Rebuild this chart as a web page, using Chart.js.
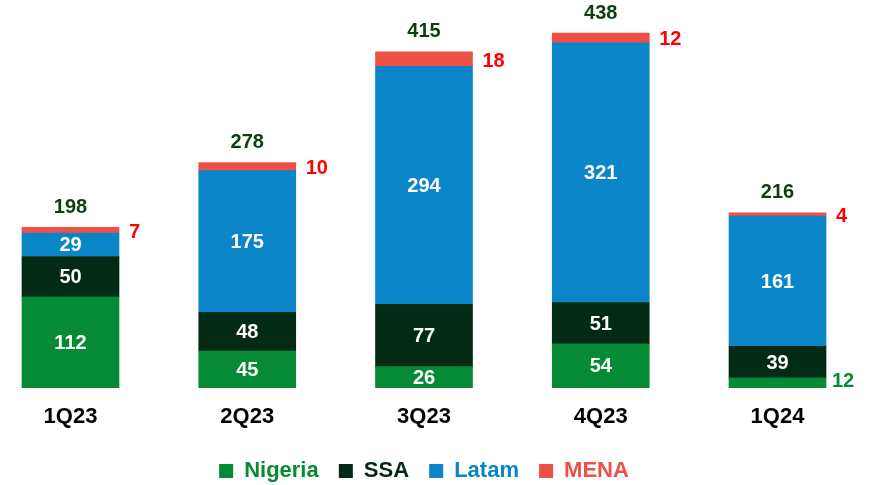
<!DOCTYPE html>
<html>
<head>
<meta charset="utf-8">
<script src="https://cdn.jsdelivr.net/npm/chart.js@4"></script>
<style>
html,body{margin:0;padding:0;background:#fff;}
#wrap{width:873px;height:485px;position:relative;}
</style>
</head>
<body>
<div id="wrap"><canvas id="c" width="873" height="485"></canvas></div>
<script>
const categories = ['1Q23', '2Q23', '3Q23', '4Q23', '1Q24'];
const nigeria = [112, 45, 26, 54, 12];
const ssa = [50, 48, 77, 51, 39];
const latam = [29, 175, 294, 321, 161];
const mena = [7, 10, 18, 12, 4];
const totals = [198, 278, 415, 438, 216];

const colors = {
  nigeria: '#078a35',
  ssa: '#032a15',
  latam: '#0a86c8',
  mena: '#ef5046'
};
const FONT = '"Liberation Sans", Arial, sans-serif';

const labelPlugin = {
  id: 'barLabels',
  afterDatasetsDraw(chart) {
    const ctx = chart.ctx;
    ctx.save();
    ctx.font = 'bold 20px ' + FONT;
    ctx.textBaseline = 'middle';
    const metas = chart.data.datasets.map((d, i) => chart.getDatasetMeta(i));
    categories.forEach((cat, j) => {
      metas.forEach((meta, i) => {
        const bar = meta.data[j];
        const v = chart.data.datasets[i].data[j];
        const cy = (bar.y + bar.base) / 2;
        const key = chart.data.datasets[i].key;
        if (key === 'mena') {
          ctx.fillStyle = '#ff0000';
          ctx.textAlign = 'left';
          ctx.fillText(String(v), bar.x + bar.width / 2 + 10, cy + 2);
        } else if (Math.abs(bar.base - bar.y) < 20) {
          ctx.fillStyle = colors[key];
          ctx.textAlign = 'left';
          ctx.fillText(String(v), bar.x + bar.width / 2 + 6, cy - 1);
        } else {
          ctx.fillStyle = '#ffffff';
          ctx.textAlign = 'center';
          ctx.fillText(String(v), bar.x, cy + 1);
        }
      });
      const top = metas[metas.length - 1].data[j];
      ctx.fillStyle = '#0f3d12';
      ctx.textAlign = 'center';
      ctx.fillText(String(totals[j]), top.x, top.y - 20);
    });
    ctx.restore();
  }
};

const mk = (label, key, data) => ({
  label, key, data,
  backgroundColor: colors[key],
  borderWidth: 0,
  barThickness: 97,
  clip: false
});

new Chart(document.getElementById('c'), {
  type: 'bar',
  data: {
    labels: categories,
    datasets: [
      mk('Nigeria', 'nigeria', nigeria),
      mk('SSA', 'ssa', ssa),
      mk('Latam', 'latam', latam),
      mk('MENA', 'mena', mena)
    ]
  },
  options: {
    responsive: false,
    animation: false,
    devicePixelRatio: 1,
    layout: { padding: { left: 70.5, right: 95.5, top: 8, bottom: -7 } },
    scales: {
      x: {
        stacked: true,
        offset: false,
        grid: { display: false, drawTicks: false },
        border: { display: false },
        ticks: {
          color: '#000',
          font: { family: FONT, size: 22, weight: 'bold' },
          padding: 16,
          maxRotation: 0,
          autoSkip: false
        }
      },
      y: {
        stacked: true,
        display: false,
        min: 0,
        max: 469
      }
    },
    plugins: {
      tooltip: { enabled: false },
      legend: {
        position: 'bottom',
        labels: {
          boxWidth: 14,
          boxHeight: 14,
          padding: 14,
          font: { family: FONT, size: 22, weight: 'bold' },
          generateLabels(chart) {
            const n = chart.data.datasets.length;
            return chart.data.datasets.map((d, i) => ({
              text: i < n - 1 ? d.label + ' ' : d.label,
              fillStyle: d.backgroundColor,
              strokeStyle: d.backgroundColor,
              lineWidth: 0,
              fontColor: d.backgroundColor,
              datasetIndex: i,
              hidden: false
            }));
          }
        }
      }
    }
  },
  plugins: [labelPlugin]
});
</script>
</body>
</html>
